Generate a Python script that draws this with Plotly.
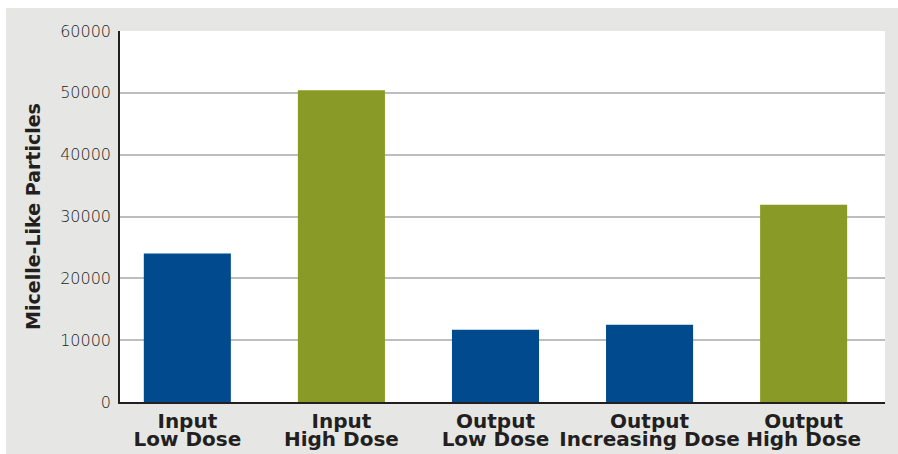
import plotly.graph_objects as go

cat_line1 = ["Input", "Input", "Output", "Output", "Output"]
cat_line2 = ["Low Dose", "High Dose", "Low Dose", "Increasing Dose", "High Dose"]
values = [24000, 50400, 11700, 12500, 31900]
bar_colors = ["#004a8d", "#8a9a26", "#004a8d", "#004a8d", "#8a9a26"]
y_ticks = [0, 10000, 20000, 30000, 40000, 50000, 60000]

idx = list(range(len(values)))
x_range = [-0.437, 4.528]
label_font = dict(family="DejaVu Sans", size=20, color="#231f20", weight="bold")

fig = go.Figure()
fig.add_trace(go.Bar(
    x=idx, y=values,
    marker=dict(color=bar_colors, line=dict(width=0)),
    width=0.565, hoverinfo="skip",
))
# second row of category labels lives on an overlaid axis
fig.add_trace(go.Scatter(x=idx, y=[None] * len(idx), xaxis="x2", yaxis="y",
                         mode="markers", hoverinfo="skip", showlegend=False))

fig.update_layout(
    width=898, height=454,
    margin=dict(l=120, r=13, t=31, b=52),
    paper_bgcolor="#e6e7e5", plot_bgcolor="#ffffff",
    showlegend=False,
    font=dict(family="DejaVu Sans", color="#231f20"),
    xaxis=dict(
        range=x_range, automargin=False,
        tickmode="array", tickvals=idx, ticktext=cat_line1,
        tickfont=label_font, ticklabelstandoff=0,
        showgrid=False, zeroline=False,
        showline=True, linecolor="#231f20", linewidth=1.5,
        ticks="", fixedrange=True,
    ),
    xaxis2=dict(
        range=x_range, automargin=False, overlaying="x", anchor="y", side="bottom",
        tickmode="array", tickvals=idx, ticktext=cat_line2,
        tickfont=label_font, ticklabelstandoff=23,
        showgrid=False, zeroline=False, showline=False,
        ticks="", fixedrange=True,
    ),
    yaxis=dict(
        range=[0, 60000], automargin=False,
        tickmode="array", tickvals=y_ticks, tickformat="d",
        tickfont=dict(family="DejaVu Sans", size=16, color="#231f20", weight=200),
        showgrid=True, gridcolor="#bcbec0", gridwidth=2,
        zeroline=False,
        showline=True, linecolor="#231f20", linewidth=1.5,
        ticks="", ticklabelstandoff=4,
        title=dict(text="Micelle-Like Particles", standoff=14,
                   font=dict(family="DejaVu Sans", size=19, color="#231f20", weight="bold")),
        fixedrange=True,
    ),
    shapes=[
        dict(type="rect", xref="paper", yref="paper", x0=-0.2, x1=1.1,
             y0=(402 - 8) / 371, y1=1.2, fillcolor="#ffffff", line=dict(width=0), layer="above"),
        dict(type="rect", xref="paper", yref="paper", x0=-0.2, x1=(6 - 120) / 765,
             y0=-0.2, y1=1.2, fillcolor="#ffffff", line=dict(width=0), layer="above"),
    ],
)

fig.write_html("out.html", config={"displayModeBar": False})
